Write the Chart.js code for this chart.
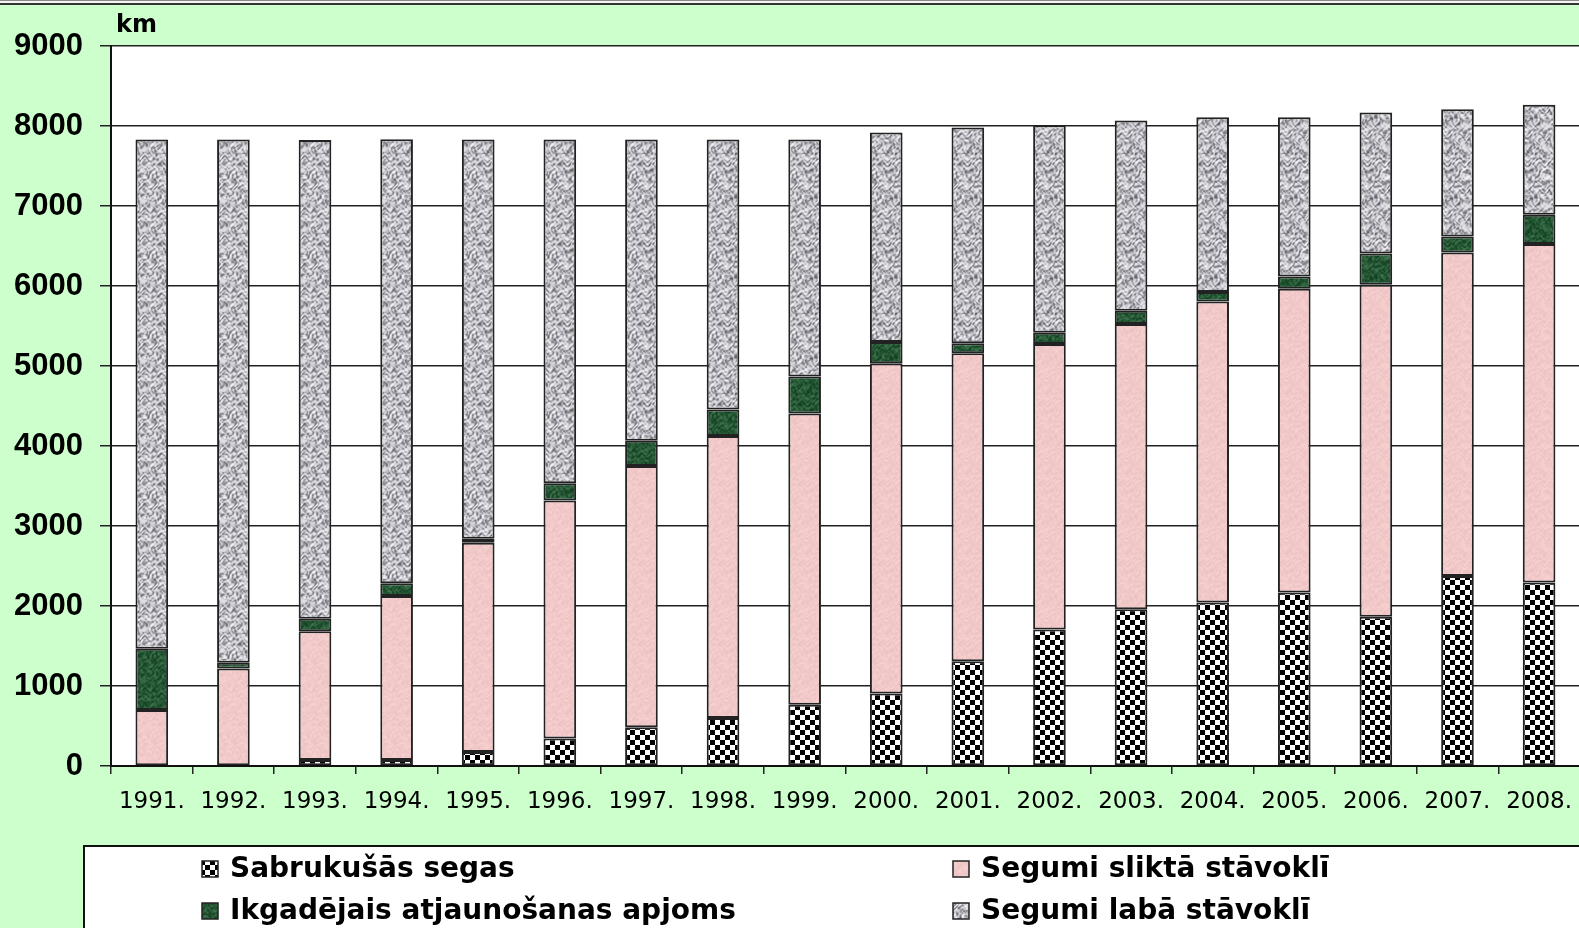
<!DOCTYPE html>
<html>
<head>
<meta charset="utf-8">
<title>Segumu stāvoklis</title>
<script src="https://cdn.jsdelivr.net/npm/chart.js@4.4.1/dist/chart.umd.min.js"></script>
<style>
  html, body { margin: 0; padding: 0; overflow: hidden; background: #ccffcc; }
  #wrap { width: 1586px; height: 928px; }
</style>
</head>
<body>
<div id="wrap"><canvas id="chart_container" width="1586" height="928"></canvas></div>
<script>
// km
var years = ["1991.", "1992.", "1993.", "1994.", "1995.", "1996.", "1997.", "1998.", "1999.",
             "2000.", "2001.", "2002.", "2003.", "2004.", "2005.", "2006.", "2007.", "2008."];
var sabrukusas = [10, 10, 75, 75, 175, 345, 485, 600, 765, 905, 1310, 1705, 1960, 2045, 2170, 1865, 2375, 2295];
var slikta = [690, 1210, 1610, 2050, 2615, 2975, 3265, 3525, 3640, 4130, 3850, 3570, 3565, 3760, 3795, 4150, 4045, 4230];
var atjaunosana = [765, 70, 155, 160, 50, 215, 315, 330, 465, 265, 125, 140, 165, 120, 155, 390, 200, 365];
var laba = [6365, 6540, 5985, 5550, 4990, 4295, 3765, 3375, 2960, 2620, 2695, 2595, 2380, 2185, 1990, 1765, 1590, 1375];
var y_ticks = [0, 1000, 2000, 3000, 4000, 5000, 6000, 7000, 8000, 9000];

var label_sabr = "Sabrukušās segas";
var label_slikta = "Segumi sliktā stāvoklī";
var label_atj = "Ikgadējais atjaunošanas apjoms";
var label_laba = "Segumi labā stāvoklī";

// checker fill for the broken surfaces
function make_checker() {
    var c = document.createElement("canvas");
    c.width = 10; c.height = 10;
    var ctx = c.getContext("2d");
    ctx.fillStyle = "#fff";
    ctx.fillRect(0, 0, 10, 10);
    ctx.fillStyle = "#000";
    ctx.fillRect(0, 0, 5, 5);
    ctx.fillRect(5, 5, 5, 5);
    return ctx.createPattern(c, "repeat");
}

// mottled texture, built from warped sines so the tile repeats without seams
function make_texture(base, dark, light, amt) {
    var n = 80;
    var c = document.createElement("canvas");
    c.width = n; c.height = n;
    var ctx = c.getContext("2d");
    var img = ctx.createImageData(n, n);
    var k = 2 * Math.PI / n;
    for (var y = 0; y < n; y++) {
        for (var x = 0; x < n; x++) {
            var wx = 2.2 * Math.sin(k * 3 * y + 1.3 * Math.cos(k * 5 * x));
            var wy = 2.2 * Math.cos(k * 4 * x + 1.1 * Math.sin(k * 6 * y));
            var v = Math.sin(k * 7 * x + wx) * Math.cos(k * 6 * y + wy)
                  + 0.7 * Math.sin(k * 11 * y + 1.5 * Math.sin(k * 9 * x) + wx)
                  + 0.5 * Math.cos(k * 13 * x - 1.7 * Math.cos(k * 10 * y) + wy)
                  + 0.35 * Math.sin(k * 17 * (x + y) + wx);
            v = v / 1.9;
            v = (v < 0 ? -1 : 1) * Math.pow(Math.min(1, Math.abs(v)), 0.8) * amt;
            var t, col;
            if (v < 0) { t = Math.min(1, -v); col = [0, 1, 2].map(function(i) { return base[i] + (dark[i] - base[i]) * t; }); }
            else { t = Math.min(1, v); col = [0, 1, 2].map(function(i) { return base[i] + (light[i] - base[i]) * t; }); }
            var p = (y * n + x) * 4;
            img.data[p] = col[0]; img.data[p + 1] = col[1]; img.data[p + 2] = col[2]; img.data[p + 3] = 255;
        }
    }
    ctx.putImageData(img, 0, 0);
    return ctx.createPattern(c, "repeat");
}

var fill_sabr = make_checker();
var fill_slikta = make_texture([242, 201, 201], [230, 188, 190], [250, 214, 212], 0.6);
var fill_atj = make_texture([36, 88, 52], [18, 58, 32], [64, 118, 78], 0.9);
var fill_laba = make_texture([192, 192, 198], [105, 105, 112], [240, 240, 245], 1.0);

function make_set(label, data, fill) {
    return {
        label: label,
        data: data,
        backgroundColor: fill,
        borderColor: "#222",
        borderWidth: 2,
        borderSkipped: false,
        barPercentage: 1.0,
        categoryPercentage: 0.4
    };
}

var frame_plugin = {
    id: "frame",
    beforeDraw: function(chart) {
        var ctx = chart.ctx;
        var a = chart.chartArea;
        ctx.save();
        ctx.fillStyle = "#ccffcc";
        ctx.fillRect(0, 0, chart.width, chart.height);
        ctx.fillStyle = "#fff";
        ctx.fillRect(a.left, a.top, a.right - a.left, a.bottom - a.top);
        // thin frame at the very top
        ctx.fillStyle = "#f4f4f4";
        ctx.fillRect(0, 0, chart.width, 3);
        ctx.fillStyle = "#888";
        ctx.fillRect(0, 0, chart.width, 1);
        ctx.fillStyle = "#333";
        ctx.fillRect(0, 3, chart.width, 2);
        ctx.restore();
    },
    afterDraw: function(chart) {
        var ctx = chart.ctx;
        ctx.save();
        // unit label
        ctx.fillStyle = "#000";
        ctx.font = "bold 24px 'DejaVu Sans'";
        ctx.textBaseline = "alphabetic";
        ctx.textAlign = "left";
        ctx.fillText("km", 116, 32);

        // legend box, cut off at the bottom like the original
        ctx.fillStyle = "#fff";
        ctx.fillRect(84, 846, chart.width, 100);
        ctx.strokeStyle = "#111";
        ctx.lineWidth = 2;
        ctx.strokeRect(84, 846, chart.width, 100);

        var ds = chart.data.datasets;
        var items = [
            [ds[0], 202, 869], [ds[2], 202, 911],
            [ds[1], 953, 869], [ds[3], 953, 911]
        ];
        ctx.font = "bold 28px 'DejaVu Sans'";
        ctx.textBaseline = "middle";
        for (var i = 0; i < items.length; i++) {
            var d = items[i][0], x = items[i][1], y = items[i][2];
            ctx.fillStyle = d.backgroundColor;
            ctx.fillRect(x, y - 8, 16, 16);
            ctx.strokeStyle = "#222";
            ctx.lineWidth = 1.5;
            ctx.strokeRect(x, y - 8, 16, 16);
            ctx.fillStyle = "#000";
            ctx.fillText(d.label, x + 28, y + 1);
        }
        ctx.restore();
    }
};

var ctx = document.getElementById("chart_container");
var myChart = new Chart(ctx, {
    type: "bar",
    data: {
        labels: years,
        datasets: [
            make_set(label_sabr, sabrukusas, fill_sabr),
            make_set(label_slikta, slikta, fill_slikta),
            make_set(label_atj, atjaunosana, fill_atj),
            make_set(label_laba, laba, fill_laba)
        ]
    },
    options: {
        responsive: false,
        animation: false,
        devicePixelRatio: 1,
        layout: { padding: { top: 46, left: 0, right: 0, bottom: 0 } },
        plugins: {
            legend: { display: false },
            tooltip: { enabled: false }
        },
        scales: {
            x: {
                stacked: true,
                afterFit: function(scale) { scale.height = 162; },
                grid: {
                    drawOnChartArea: false,
                    drawTicks: true,
                    tickLength: 8,
                    color: "#222",
                    lineWidth: 1.5,
                    offset: true
                },
                border: { display: true, color: "#111", width: 2 },
                ticks: {
                    color: "#000",
                    font: { family: "'DejaVu Sans'", size: 23 },
                    padding: 14,
                    maxRotation: 0,
                    autoSkip: false
                }
            },
            y: {
                stacked: true,
                min: 0,
                max: 9000,
                afterFit: function(scale) { scale.width = 111; },
                afterBuildTicks: function(scale) {
                    scale.ticks = y_ticks.map(function(v) { return { value: v }; });
                },
                grid: {
                    color: "#222",
                    lineWidth: 1.5,
                    tickLength: 11
                },
                border: { display: true, color: "#111", width: 2 },
                ticks: {
                    color: "#000",
                    font: { family: "'Liberation Sans'", size: 31, weight: "bold" },
                    padding: 17,
                    callback: function(v) { return String(v); }
                }
            }
        }
    },
    plugins: [frame_plugin]
});
</script>
</body>
</html>
